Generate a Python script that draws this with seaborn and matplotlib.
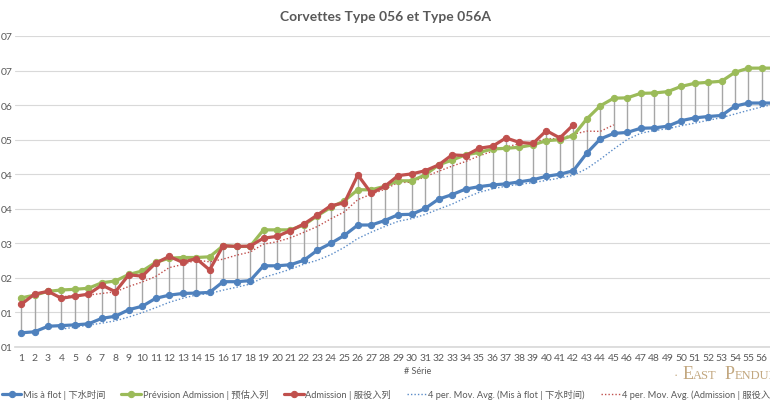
import matplotlib
matplotlib.use("Agg")
import matplotlib.pyplot as plt
import seaborn as sns
import pandas as pd
import numpy as np

# valeurs (unité = un intervalle de grille)
series_no = list(range(1, 58))
mis_a_flot = [0.41, 0.44, 0.60, 0.62, 0.64, 0.67, 0.83, 0.89, 1.08, 1.18,
              1.41, 1.50, 1.55, 1.56, 1.58, 1.89, 1.89, 1.92, 2.35, 2.35,
              2.38, 2.51, 2.80, 3.00, 3.23, 3.53, 3.53, 3.66, 3.83, 3.84,
              4.01, 4.28, 4.41, 4.57, 4.64, 4.69, 4.72, 4.78, 4.84, 4.94,
              5.00, 5.10, 5.61, 6.02, 6.18, 6.21, 6.33, 6.34, 6.39, 6.55,
              6.63, 6.67, 6.70, 6.97, 7.06, 7.06, 7.06]
prevision = [1.42, 1.50, 1.61, 1.65, 1.67, 1.70, 1.86, 1.91, 2.10, 2.20,
             2.45, 2.57, 2.59, 2.59, 2.61, 2.93, 2.91, 2.91, 3.39, 3.39,
             3.39, 3.53, 3.80, 4.04, 4.23, 4.55, 4.55, 4.65, 4.81, 4.81,
             4.98, 5.27, 5.41, 5.56, 5.63, 5.73, 5.75, 5.78, 5.85, 5.97,
             6.00, 6.12, 6.60, 6.98, 7.20, 7.21, 7.34, 7.35, 7.39, 7.54,
             7.63, 7.66, 7.69, 7.95, 8.07, 8.07, 8.07]
admission = [1.23, 1.53, 1.61, 1.41, 1.47, 1.53, 1.79, 1.60, 2.09, 2.05,
             2.43, 2.62, 2.45, 2.56, 2.23, 2.93, 2.91, 2.92, 3.15, 3.20,
             3.37, 3.56, 3.82, 4.09, 4.17, 4.98, 4.45, 4.65, 4.96, 5.01,
             5.10, 5.27, 5.56, 5.54, 5.75, 5.81, 6.05, 5.92, 5.89, 6.26,
             6.05, 6.43]
ytick_labels = ["01", "01", "02", "03", "04", "04", "05", "06", "07", "07"]

labels = ["Mis à flot | 下水时间", "Prévision Admission | 预估入列",
          "Admission | 服役入列",
          "4 per. Mov. Avg. (Mis à flot | 下水时间)",
          "4 per. Mov. Avg. (Admission | 服役入列)"]

sns.set_theme(style="white")
plt.rcParams['font.family'] = ['Lato', 'Noto Sans CJK SC', 'DejaVu Sans']

df = pd.DataFrame({"serie": series_no, "flot": mis_a_flot, "prev": prevision,
                   "adm": admission + [np.nan] * (len(series_no) - len(admission))})
df["ma_flot"] = df["flot"].rolling(4).mean()
ma_adm = df["adm"].rolling(4, min_periods=1).mean()
ma_adm.iloc[:3] = np.nan
df["ma_adm"] = ma_adm

blue, green, red = "#4F81BD", "#9BBB59", "#C0504D"
grey_txt = "#595959"

fig = plt.figure(figsize=(7.7, 4.1), dpi=100)
ax = fig.add_axes([15 / 770, 62 / 410, 755 / 770, 311 / 410])

# lignes haut-bas
top = df[["prev", "adm"]].max(axis=1)
ax.vlines(df["serie"], df["flot"], top, color="#a6a6a6", lw=1.0, zorder=1)

sns.lineplot(data=df, x="serie", y="flot", color=blue, lw=2.3, marker="o",
             ms=4.5, mec=blue, estimator=None, label=labels[0], ax=ax, zorder=4)
sns.lineplot(data=df, x="serie", y="prev", color=green, lw=2.3, marker="o",
             ms=4.5, mec=green, estimator=None, label=labels[1], ax=ax, zorder=3)
sns.lineplot(data=df, x="serie", y="adm", color=red, lw=2.3, marker="o",
             ms=4.5, mec=red, estimator=None, label=labels[2], ax=ax, zorder=5)
sns.lineplot(data=df, x="serie", y="ma_flot", color="#5B8CC8", lw=1.0,
             linestyle=(0, (1, 1.5)), estimator=None, label=labels[3], ax=ax, zorder=2)
sns.lineplot(data=df, x="serie", y="ma_adm", color=red, lw=1.0,
             linestyle=(0, (1, 1.5)), estimator=None, label=labels[4], ax=ax, zorder=2)

ax.set_xlim(0.55, 56.6)
ax.set_ylim(0, 9)
ax.set_xticks(series_no[:56])
ax.set_xticklabels([str(n) for n in series_no[:56]])
ax.set_yticks(range(len(ytick_labels)))
ax.set_yticklabels(ytick_labels)
ax.tick_params(axis="both", length=0, labelsize=7.5, colors=grey_txt)
ax.tick_params(axis="y", pad=1.5)
ax.tick_params(axis="x", pad=4)
ax.grid(axis="y", color="#d9d9d9", lw=0.8)
ax.set_axisbelow(True)
for side in ["left", "right", "top"]:
    ax.spines[side].set_visible(False)
ax.spines["bottom"].set_color("#d9d9d9")
ax.set_xlabel("")
ax.set_ylabel("")

handles, labs = ax.get_legend_handles_labels()
ax.get_legend().remove()
fig.legend(handles, labs, ncol=5, loc="center left",
           bbox_to_anchor=(0.0, 1 - 395 / 410), frameon=False, fontsize=6.7,
           labelcolor=grey_txt, handlelength=2.1, handletextpad=0.2,
           columnspacing=1.7, borderaxespad=0, borderpad=0.2)

fig.text(385 / 770, 1 - 17 / 410, "Corvettes Type 056 et Type 056A",
         ha="center", va="center", fontsize=10, fontweight="bold", color=grey_txt)
fig.text(418 / 770, 1 - 372 / 410, "# Série", ha="center", va="center",
         fontsize=6.5, color=grey_txt)

# filigrane
wm = "#c2a77f"
base = 1 - 379 / 410
fig.text(674 / 770, base, "·", fontsize=9, color=wm, family="Liberation Serif")
fig.text(683 / 770, base, "E", fontsize=13, color=wm, family="Liberation Serif")
fig.text(693 / 770, base, "AST", fontsize=9, color=wm, family="Liberation Serif")
fig.text(725 / 770, base, "P", fontsize=13, color=wm, family="Liberation Serif")
fig.text(735 / 770, base, "ENDULUM", fontsize=9, color=wm, family="Liberation Serif")

fig.savefig("out.png", dpi=100)
